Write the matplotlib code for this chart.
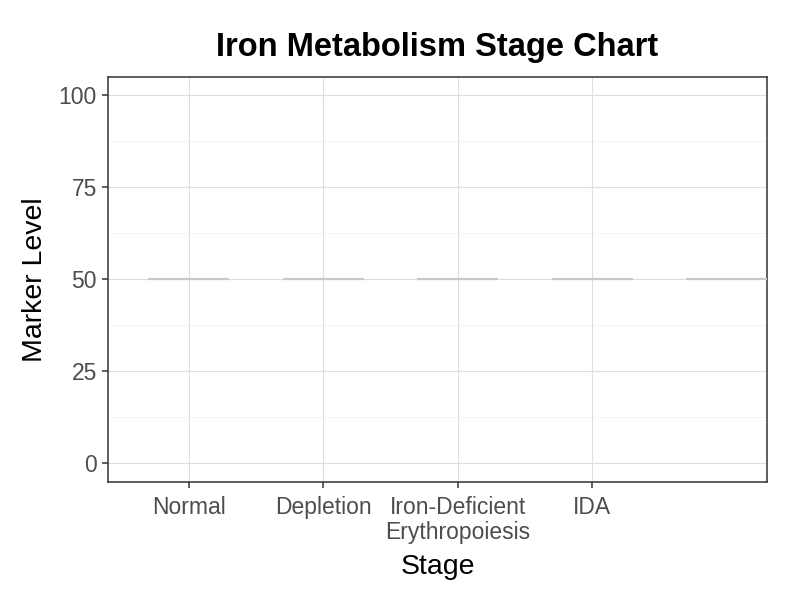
import matplotlib
matplotlib.use("Agg")
import matplotlib.pyplot as plt
import numpy as np

stages = ["Normal", "Depletion", "Iron-Deficient\nErythropoiesis", "IDA", ""]
levels = [50, 50, 50, 50, 50]
tick_labels = ["Normal", "Depletion", "Iron-Deficient\nErythropoiesis", "IDA"]
y_ticks = [0, 25, 50, 75, 100]

plt.rcParams['font.family'] = ['Liberation Sans', 'DejaVu Sans']

fig = plt.figure(figsize=(8, 6), dpi=100)
ax = fig.add_axes([0.135, 0.197, 0.824, 0.675])

pos = np.arange(1, len(stages) + 1)
for p, v in zip(pos, levels):
    ax.plot([p - 0.3, p + 0.3], [v, v], color="#c8c8c8", lw=1.6, solid_capstyle="butt", zorder=3, clip_on=True)

ax.set_xlim(0.4, 5.3)
ax.set_ylim(-5, 105)
ax.set_xticks(pos[:4])
ax.set_xticklabels(tick_labels)
ax.set_yticks(y_ticks)
ax.set_yticks([12.5, 37.5, 62.5, 87.5], minor=True)

ax.grid(True, which="major", color="#dedede", lw=0.8, zorder=0)
ax.grid(True, which="minor", axis="y", color="#efefef", lw=0.5, zorder=0)
ax.set_axisbelow(True)

for s in ax.spines.values():
    s.set_color("#333333")
    s.set_linewidth(1.1)

ax.tick_params(axis="both", which="major", length=4, width=1.1, color="#333333",
               labelcolor="#4d4d4d", labelsize=16.5, pad=4)
ax.tick_params(axis="both", which="minor", length=0)
ax.tick_params(axis="x", pad=6)
for lab in ax.get_xticklabels():
    lab.set_linespacing(1.12)

ax.set_xlabel("Stage", fontsize=20.5, color="black", labelpad=7)
ax.set_ylabel("Marker Level", fontsize=20.5, color="black", labelpad=8)
ax.set_title("Iron Metabolism Stage Chart", fontsize=23.5, fontweight="bold", pad=15)

fig.savefig("out.png", dpi=100)
